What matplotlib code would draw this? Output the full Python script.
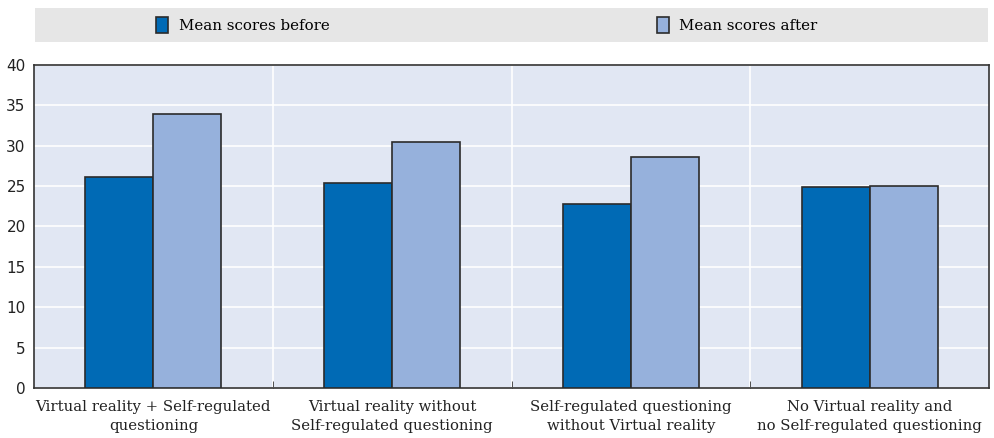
import numpy as np
import matplotlib
matplotlib.use("Agg")
import matplotlib.pyplot as plt
from matplotlib.patches import Rectangle

categories = ["Virtual reality + Self-regulated\nquestioning",
              "Virtual reality without\nSelf-regulated questioning",
              "Self-regulated questioning\nwithout Virtual reality",
              "No Virtual reality and\nno Self-regulated questioning"]
before = [26.1, 25.4, 22.8, 24.9]
after = [33.9, 30.5, 28.6, 25.0]
series_names = ["Mean scores before", "Mean scores after"]

c_before = "#006ab5"
c_after = "#96b1dc"
edge = "#2b2b2b"
serif = "DejaVu Serif"

fig = plt.figure(figsize=(9.95, 4.38), dpi=100)
ax = fig.add_axes([34 / 995, 1 - 388 / 438, 955 / 995, 323 / 438])
ax.set_facecolor("#e1e7f3")

x = np.arange(len(categories))
w = 0.285
b1 = ax.bar(x - w / 2, before, w, color=c_before, edgecolor=edge, linewidth=1.2,
            label=series_names[0], zorder=3)
b2 = ax.bar(x + w / 2, after, w, color=c_after, edgecolor=edge, linewidth=1.2,
            label=series_names[1], zorder=3)

ax.set_xlim(-0.5, len(categories) - 0.5)
ax.set_ylim(0, 40)
ax.set_yticks(range(0, 41, 5))
ax.set_xticks(x)
ax.set_xticklabels(categories, family=serif, fontsize=10.7, color="#222222",
                   linespacing=1.45)
ax.set_xticks(np.arange(0.5, len(categories) - 0.5, 1), minor=True)
ax.tick_params(axis="x", which="major", length=0, pad=9)
ax.tick_params(axis="x", which="minor", direction="in", length=5, color="#333333")
ax.tick_params(axis="y", length=0, labelsize=11, colors="#222222", pad=6)
ax.grid(axis="y", color="white", linewidth=1.2, zorder=1)
ax.grid(axis="x", which="minor", color="white", linewidth=1.2, zorder=1)
for s in ax.spines.values():
    s.set_color("#333333")
    s.set_linewidth(1.2)

# legend band
fig.patches.append(Rectangle((35 / 995, 1 - 42 / 438), 953 / 995, 34 / 438,
                             transform=fig.transFigure, facecolor="#e6e6e6",
                             edgecolor="none", zorder=0))
fig.legend(handles=[b1, b2], labels=series_names, loc="center left",
           bbox_to_anchor=(143 / 995, 1 - 25 / 438), ncol=2, frameon=False,
           columnspacing=21.8, handlelength=0.8, handleheight=1.2, handletextpad=0.7,
           prop={"family": serif, "size": 10.8})

fig.savefig("out.png", dpi=100)
